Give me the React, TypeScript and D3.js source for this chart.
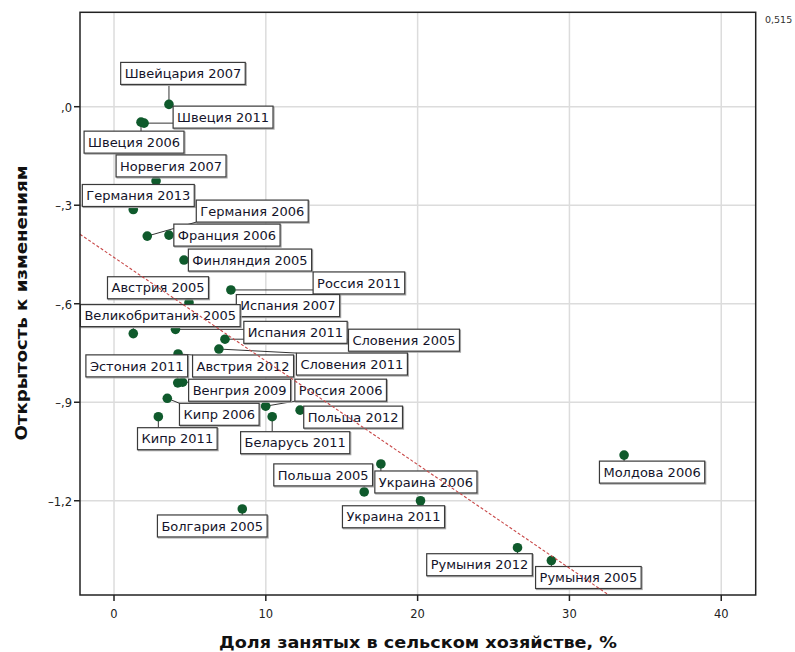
import React, { useEffect, useRef } from 'react';
import * as d3 from 'd3';

const labels = [
  'Швейцария 2007', 'Швеция 2006', 'Швеция 2011', 'Норвегия 2007', 'Германия 2013',
  'Германия 2006', 'Франция 2006', 'Финляндия 2005', 'Россия 2011', 'Австрия 2005',
  'Испания 2007', 'Великобритания 2005', 'Испания 2011', 'Словения 2005', 'Словения 2011',
  'Австрия 2012', 'Эстония 2011', 'Венгрия 2009', 'Кипр 2006', 'Кипр 2011',
  'Россия 2006', 'Беларусь 2011', 'Польша 2012', 'Молдова 2006', 'Украина 2006',
  'Польша 2005', 'Украина 2011', 'Болгария 2005', 'Румыния 2012', 'Румыния 2005',
];

const agriShare = [
  3.62, 1.78, 1.98, 2.77, 1.27,
  2.19, 3.62, 4.61, 7.70, 4.94,
  5.40, 1.27, 4.05, 7.31, 6.91,
  4.22, 4.20, 4.52, 3.51, 2.92,
  9.99, 10.42, 12.26, 33.6, 17.58,
  16.48, 20.19, 8.45, 26.58, 28.81,
];

const openness = [
  0.007, -0.047, -0.050, -0.226, -0.313,
  -0.394, -0.391, -0.467, -0.558, -0.597,
  -0.630, -0.691, -0.678, -0.708, -0.738,
  -0.753, -0.841, -0.839, -0.888, -0.944,
  -0.912, -0.944, -0.924, -1.061, -1.088,
  -1.173, -1.200, -1.225, -1.343, -1.382,
];

const xTicks = [0, 10, 20, 30, 40];
const xTickLabels = ['0', '10', '20', '30', '40'];
const yTicks = [0, -0.3, -0.6, -0.9, -1.2];
const yTickLabels = [',0', '–,3', '–,6', '–,9', '–1,2'];

const fitIntercept = -0.459;
const fitSlope = -0.03154;
const rSquaredText = '0,515';

const xTitle = 'Доля занятых в сельском хозяйстве, %';
const yTitle = 'Открытость к изменениям';

// label box centre offsets from the point (pixels)
const labelOffsets: [number, number][] = [
  [14, -31], [-7, 20], [79, -6], [15, -15], [5, -14],
  [105, -25], [58, 0], [66, 0], [128, -7], [-31, -15],
  [92, -8], [27, -18], [120, 3], [179, 1], [133, 15],
  [65, 12], [-41, -17], [57, 8], [52, 16], [19, 22],
  [75, -16], [23, 26], [53, 7], [28, 17], [45, 18],
  [-41, -17], [-27, 16], [-30, 17], [-38, 17], [37, 17],
];

export default function App() {
  const ref = useRef<SVGSVGElement>(null);

  useEffect(() => {
    const svg = d3.select(ref.current);
    svg.selectAll('*').remove();

    const left = 80, right = 755.7, top = 12.3, bottom = 595;
    const x = d3.scaleLinear().domain([-2.24, 42.27]).range([left, right]);
    const y = d3.scaleLinear().domain([0.2875, -1.487]).range([top, bottom]);

    svg.append('rect').attr('width', 795).attr('height', 652).attr('fill', '#fff');

    const defs = svg.append('defs');
    defs.append('clipPath').attr('id', 'plotclip')
      .append('rect').attr('x', left).attr('y', top).attr('width', right - left).attr('height', bottom - top);

    // grid
    const g = svg.append('g');
    g.selectAll('line.vg').data(xTicks).join('line')
      .attr('x1', d => x(d)).attr('x2', d => x(d)).attr('y1', top).attr('y2', bottom)
      .attr('stroke', '#dcdcdc').attr('stroke-width', 1.5);
    g.selectAll('line.hg').data(yTicks).join('line')
      .attr('y1', d => y(d)).attr('y2', d => y(d)).attr('x1', left).attr('x2', right)
      .attr('stroke', '#dcdcdc').attr('stroke-width', 1.5);

    const fontFamily = '"DejaVu Sans", Verdana, sans-serif';

    const pts = labels.map((name, i) => {
      const px = x(agriShare[i]);
      const py = y(openness[i]);
      return { name, px, py, cx: px + labelOffsets[i][0], cy: py + labelOffsets[i][1] };
    });

    const leaderG = svg.append('g');
    const dotG = svg.append('g');
    const labelG = svg.append('g');

    const items = pts.map(p => {
      const grp = labelG.append('g');
      const shadow = grp.append('rect');
      const rect = grp.append('rect');
      const text = grp.append('text')
        .attr('x', p.cx).attr('y', p.cy + 4.7)
        .attr('text-anchor', 'middle')
        .attr('font-family', fontFamily)
        .attr('font-size', 13)
        .attr('fill', '#14142a')
        .text(p.name);
      const w = (text.node() as SVGTextElement).getComputedTextLength() + 8;
      const h = 22;
      const rx = p.cx - w / 2, ry = p.cy - h / 2;
      shadow.attr('x', rx + 1).attr('y', ry + 1).attr('width', w).attr('height', h)
        .attr('fill', 'none').attr('stroke', '#aaa').attr('stroke-width', 1.2);
      rect.attr('x', rx).attr('y', ry).attr('width', w).attr('height', h)
        .attr('fill', '#fff').attr('stroke', '#3a3a3a').attr('stroke-width', 1.2);
      return { ...p, rx, ry, w, h };
    });

    items.forEach(it => {
      const nx = Math.max(it.rx, Math.min(it.px, it.rx + it.w));
      const ny = Math.max(it.ry, Math.min(it.py, it.ry + it.h));
      const dist = Math.hypot(nx - it.px, ny - it.py);
      if (dist > 5) {
        leaderG.append('line')
          .attr('x1', it.px).attr('y1', it.py).attr('x2', nx).attr('y2', ny)
          .attr('stroke', '#333').attr('stroke-width', 1);
      }
    });

    dotG.selectAll('circle').data(pts).join('circle')
      .attr('cx', d => d.px).attr('cy', d => d.py).attr('r', 4.8)
      .attr('fill', '#0f5a2c');

    // fit line
    const x0 = -2.24, x1 = 42.27;
    svg.append('line')
      .attr('clip-path', 'url(#plotclip)')
      .attr('x1', x(x0)).attr('y1', y(fitIntercept + fitSlope * x0))
      .attr('x2', x(x1)).attr('y2', y(fitIntercept + fitSlope * x1))
      .attr('stroke', '#c84848').attr('stroke-width', 1.1).attr('stroke-dasharray', '3,2');

    // frame
    svg.append('rect').attr('x', left).attr('y', top).attr('width', right - left).attr('height', bottom - top)
      .attr('fill', 'none').attr('stroke', '#222').attr('stroke-width', 1.5);

    const xa = svg.append('g');
    xTicks.forEach((t, i) => {
      xa.append('line').attr('x1', x(t)).attr('x2', x(t)).attr('y1', bottom).attr('y2', bottom + 6)
        .attr('stroke', '#222').attr('stroke-width', 1.5);
      xa.append('text').attr('x', x(t)).attr('y', 618).attr('text-anchor', 'middle')
        .attr('font-family', fontFamily).attr('font-size', 11.5).attr('fill', '#222')
        .text(xTickLabels[i]);
    });
    const ya = svg.append('g');
    yTicks.forEach((t, i) => {
      ya.append('line').attr('x1', left - 6).attr('x2', left).attr('y1', y(t)).attr('y2', y(t))
        .attr('stroke', '#222').attr('stroke-width', 1.5);
      ya.append('text').attr('x', 72).attr('y', y(t) + 5).attr('text-anchor', 'end')
        .attr('font-family', fontFamily).attr('font-size', 11.5).attr('fill', '#222')
        .text(yTickLabels[i]);
    });

    svg.append('text').attr('x', 418).attr('y', 648).attr('text-anchor', 'middle')
      .attr('font-family', fontFamily).attr('font-weight', 'bold').attr('font-size', 16.5)
      .attr('fill', '#111').attr('textLength', 398).attr('lengthAdjust', 'spacingAndGlyphs')
      .text(xTitle);
    svg.append('text').attr('transform', 'translate(27,303) rotate(-90)').attr('text-anchor', 'middle')
      .attr('font-family', fontFamily).attr('font-weight', 'bold').attr('font-size', 16.5)
      .attr('fill', '#111').attr('textLength', 275).attr('lengthAdjust', 'spacingAndGlyphs')
      .text(yTitle);

    svg.append('text').attr('x', 765).attr('y', 23)
      .attr('font-family', fontFamily).attr('font-size', 9.5).attr('fill', '#333')
      .text(rSquaredText);
  }, []);

  return (
    <svg ref={ref} width={795} height={652}
      style={{ position: 'absolute', left: 0, top: 0, display: 'block' }} />
  );
}
